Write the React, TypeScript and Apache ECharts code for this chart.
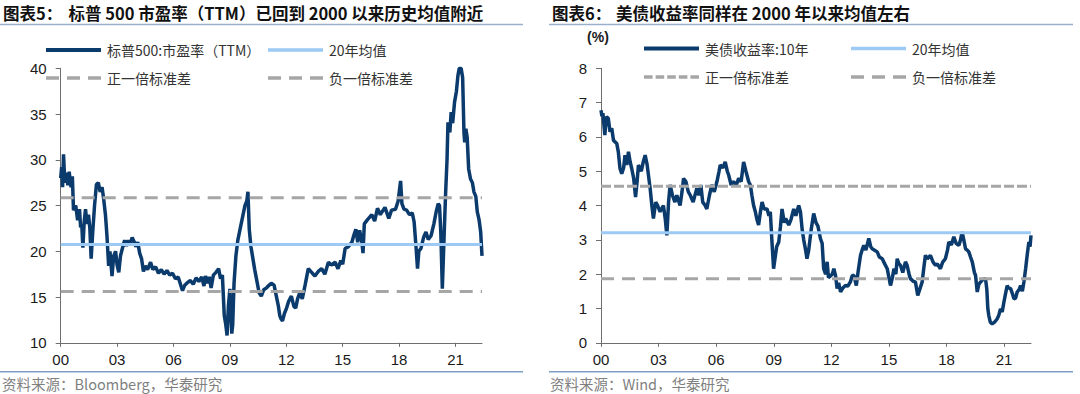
import React, { useEffect, useRef } from "react";
import * as echarts from "echarts";

// ---------- data ----------
const xTickYears = [0, 3, 6, 9, 12, 15, 18, 21];
const xTickLabels = ["00", "03", "06", "09", "12", "15", "18", "21"];

// S&P 500 PE (TTM); x = years since 2000
const peYears = [
  0.0, 0.05, 0.1, 0.15, 0.22, 0.3, 0.38, 0.45, 0.55, 0.62, 0.68, 0.8, 0.9, 1.0, 1.06, 1.12, 1.18, 1.25, 1.32, 1.4,
  1.48, 1.55, 1.62, 1.7, 1.8, 1.9, 2.0, 2.1, 2.2, 2.28, 2.38, 2.46, 2.55, 2.62, 2.73, 2.82, 2.92, 3.0, 3.09, 3.18,
  3.28, 3.4, 3.5, 3.6, 3.7, 3.8, 3.92, 4.0, 4.1, 4.2, 4.3, 4.4, 4.5, 4.62, 4.78, 4.9, 5.05, 5.2, 5.35, 5.5,
  5.65, 5.8, 5.95, 6.1, 6.25, 6.4, 6.48, 6.6, 6.75, 6.9, 7.05, 7.2, 7.35, 7.5, 7.62, 7.7, 7.8, 7.9, 8.0, 8.12,
  8.26, 8.4, 8.5, 8.6, 8.7, 8.78, 8.85, 8.92, 9.0, 9.05, 9.1, 9.15, 9.22, 9.32, 9.42, 9.55, 9.69, 9.8, 9.9, 9.96,
  10.03, 10.12, 10.2, 10.32, 10.45, 10.55, 10.67, 10.8, 10.95, 11.03, 11.2, 11.35, 11.47, 11.58, 11.65, 11.72, 11.8, 11.9, 12.0, 12.12,
  12.27, 12.4, 12.5, 12.6, 12.72, 12.85, 13.0, 13.17, 13.3, 13.52, 13.7, 13.88, 14.05, 14.24, 14.4, 14.6, 14.75, 14.9, 15.0, 15.13,
  15.3, 15.49, 15.6, 15.7, 15.8, 15.9, 16.02, 16.08, 16.15, 16.3, 16.55, 16.7, 16.85, 17.0, 17.09, 17.25, 17.45, 17.6, 17.81, 17.95,
  18.08, 18.15, 18.26, 18.4, 18.55, 18.7, 18.8, 18.9, 18.98, 19.05, 19.16, 19.3, 19.43, 19.55, 19.7, 19.85, 19.97, 20.08, 20.15, 20.22,
  20.3, 20.4, 20.47, 20.55, 20.6, 20.7, 20.77, 20.85, 20.95, 21.05, 21.13, 21.2, 21.3, 21.38, 21.45, 21.49, 21.55, 21.62, 21.7, 21.8,
  21.9, 21.98, 22.08, 22.16, 22.25, 22.34, 22.41,
];
const peValues = [
  28.0, 29.2, 27.0, 30.6, 27.5, 28.6, 27.2, 28.7, 27.0, 28.2, 24.5, 25.0, 23.4, 24.6, 22.6, 23.0, 20.4, 23.2, 24.6, 23.0,
  24.0, 22.5, 19.2, 22.0, 25.0, 27.3, 27.5, 26.5, 27.0, 25.8, 24.0, 21.7, 18.4, 20.0, 17.3, 19.5, 20.0, 18.5, 17.7, 19.5,
  20.3, 21.2, 20.6, 21.2, 20.8, 21.5, 21.0, 20.5, 21.0, 19.8, 19.2, 17.8, 18.4, 18.0, 18.8, 18.0, 18.3, 17.6, 18.0, 17.5,
  17.9, 17.4, 17.6, 17.0, 17.2, 16.2, 15.7, 16.3, 16.6, 16.8, 16.4, 17.1, 16.7, 17.2, 16.2, 17.3, 16.5, 17.2, 16.0, 17.4,
  17.7, 18.1, 17.0, 17.4, 13.0, 12.0, 10.8, 14.0, 15.9, 13.2, 11.0, 12.0, 16.5, 19.5, 21.2, 22.5, 23.9, 25.0, 25.5, 26.5,
  22.4, 20.5, 19.5, 18.0, 16.6, 15.5, 15.1, 15.8, 16.0, 16.2, 16.5, 16.3, 15.1, 14.0, 13.0, 12.6, 12.4, 13.2, 13.7, 14.5,
  15.1, 14.0, 13.8, 14.8, 15.5, 14.8, 16.3, 18.1, 17.8, 17.3, 17.8, 18.1, 17.5, 18.8, 18.5, 18.8, 18.1, 19.0, 18.6, 20.3,
  20.5, 21.0, 21.8, 22.4, 21.0, 22.3, 21.0, 19.8, 23.0, 23.4, 24.0, 23.3, 24.7, 24.0, 24.3, 24.8, 23.6, 24.5, 24.6, 25.5,
  27.7, 25.2, 24.6, 24.5, 24.0, 24.2, 23.2, 20.5, 18.1, 20.0, 20.3, 21.5, 22.1, 21.3, 21.7, 23.0, 24.3, 25.2, 25.0, 22.0,
  15.9, 22.0, 26.1, 30.0, 34.1, 33.0, 35.2, 34.0, 36.3, 37.5, 39.2, 40.0, 40.0, 39.0, 33.0, 31.9, 33.4, 32.5, 29.0, 27.9,
  27.5, 26.5, 26.0, 24.3, 23.5, 22.1, 19.5,
];
const peMean = 20.73;
const pePlusSd = 25.85;
const peMinusSd = 15.62;
const peEnd = 22.41;

// US 10Y Treasury yield (%)
const ustYears = [
  0.0, 0.05, 0.1, 0.2, 0.28, 0.38, 0.47, 0.56, 0.65, 0.82, 0.9, 0.99, 1.08, 1.18, 1.25, 1.34, 1.43, 1.52, 1.6, 1.7,
  1.8, 1.88, 1.95, 2.1, 2.2, 2.3, 2.4, 2.56, 2.65, 2.73, 2.85, 2.95, 3.08, 3.25, 3.35, 3.43, 3.52, 3.6, 3.72, 3.85,
  3.95, 4.12, 4.22, 4.3, 4.42, 4.55, 4.65, 4.8, 4.99, 5.1, 5.2, 5.3, 5.43, 5.51, 5.65, 5.77, 5.9, 6.04, 6.15, 6.21,
  6.35, 6.47, 6.58, 6.65, 6.78, 6.9, 7.05, 7.17, 7.3, 7.43, 7.55, 7.69, 7.78, 7.86, 7.95, 8.04, 8.12, 8.21, 8.3, 8.39,
  8.5, 8.65, 8.75, 8.82, 8.9, 8.99, 9.05, 9.15, 9.26, 9.35, 9.43, 9.55, 9.62, 9.78, 9.9, 10.04, 10.15, 10.3, 10.39, 10.48,
  10.56, 10.66, 10.73, 10.82, 10.95, 11.08, 11.2, 11.3, 11.43, 11.52, 11.6, 11.7, 11.78, 11.85, 11.95, 12.05, 12.13, 12.22, 12.3, 12.38,
  12.48, 12.6, 12.73, 12.85, 12.99, 13.08, 13.17, 13.3, 13.4, 13.52, 13.6, 13.69, 13.8, 13.95, 14.05, 14.13, 14.25, 14.39, 14.5, 14.65,
  14.78, 14.91, 15.0, 15.08, 15.18, 15.26, 15.36, 15.43, 15.52, 15.6, 15.72, 15.86, 15.95, 16.05, 16.12, 16.25, 16.38, 16.5, 16.6, 16.73,
  16.82, 16.9, 17.0, 17.16, 17.3, 17.42, 17.52, 17.68, 17.8, 17.94, 18.05, 18.12, 18.25, 18.38, 18.5, 18.64, 18.73, 18.81, 18.9, 18.99,
  19.08, 19.16, 19.25, 19.34, 19.45, 19.51, 19.6, 19.68, 19.77, 19.9, 20.03, 20.1, 20.15, 20.2, 20.28, 20.38, 20.5, 20.64, 20.72, 20.81,
  20.9, 20.99, 21.08, 21.16, 21.22, 21.34, 21.45, 21.51, 21.6, 21.68, 21.78, 21.86, 21.95, 22.03, 22.12, 22.2, 22.29, 22.35, 22.4,
];
const ustValues = [
  6.78, 6.6, 6.69, 6.05, 6.59, 6.54, 6.15, 6.25, 5.9, 5.81, 5.57, 5.08, 4.93, 5.1, 5.47, 5.18, 5.57, 5.27, 5.08, 4.8,
  4.25, 4.7, 5.18, 5.0, 5.27, 5.47, 5.2, 4.5, 4.0, 3.62, 4.1, 4.0, 3.82, 4.0, 3.6, 3.13, 4.1, 4.6, 4.3, 4.1,
  4.3, 4.0, 4.4, 4.79, 4.7, 4.4, 4.3, 4.1, 4.5, 4.3, 4.6, 4.1, 4.0, 3.9, 4.3, 4.6, 4.4, 4.7, 5.0, 5.18,
  5.1, 5.27, 5.0, 4.89, 4.6, 4.7, 4.6, 4.79, 4.7, 5.27, 5.0, 4.7, 4.6, 4.3, 4.0, 3.82, 3.6, 3.43, 3.8, 4.1,
  3.9, 3.9, 3.7, 3.82, 3.0, 2.16, 2.4, 2.8, 2.94, 3.4, 3.9, 3.5, 3.62, 3.43, 3.6, 3.9, 3.7, 4.0, 3.82, 3.3,
  3.0, 2.7, 2.45, 2.7, 3.3, 3.77, 3.5, 3.4, 3.04, 2.9, 2.16, 2.0, 2.36, 1.9, 1.95, 2.0, 2.16, 1.95, 1.58, 1.75,
  1.48, 1.6, 1.67, 1.65, 1.77, 1.95, 1.97, 1.67, 2.1, 2.55, 2.7, 2.84, 2.7, 3.04, 2.8, 2.74, 2.7, 2.65, 2.5, 2.45,
  2.3, 2.16, 1.9, 1.67, 1.9, 2.16, 2.0, 2.45, 2.3, 2.26, 2.05, 2.36, 2.25, 2.0, 1.87, 1.8, 1.77, 1.38, 1.55, 1.77,
  2.2, 2.55, 2.45, 2.55, 2.35, 2.26, 2.3, 2.16, 2.35, 2.45, 2.7, 2.94, 2.85, 3.09, 2.9, 2.84, 3.0, 3.23, 3.0, 2.74,
  2.7, 2.65, 2.5, 2.36, 2.05, 1.97, 1.48, 1.7, 1.77, 1.85, 1.87, 1.55, 1.0, 0.8, 0.6, 0.55, 0.6, 0.7, 0.8, 0.99,
  0.9, 1.19, 1.45, 1.67, 1.6, 1.58, 1.4, 1.28, 1.3, 1.48, 1.55, 1.67, 1.5, 1.77, 2.16, 2.55, 2.94, 2.8, 3.13,
];
const ustMean = 3.21;
const ustPlusSd = 4.56;
const ustMinusSd = 1.87;
const ustEnd = 22.4;

// ---------- styles ----------
const NAVY = "#0b3a6c";
const LIGHT = "#9ccaf4";
const GREY = "#a6a6a6";
const AXIS = "#6e6e6e";
const SANS = "'Liberation Sans', Arial, 'Noto Sans CJK SC', sans-serif";
const CJK = "'Noto Sans CJK SC', 'Liberation Sans', sans-serif";

// legend icons (55 x 3 boxes)
const ICON_SOLID = "path://M0,0h55v3h-55z";
const ICON_LONG_DASH = "path://M0,0h13v3h-13zM21,0h13v3h-13zM42,0h13v3h-13z";
const ICON_SHORT_DASH =
  "path://M0,0h8.6v3h-8.6zM11.6,0h8.6v3h-8.6zM23.2,0h8.6v3h-8.6zM34.8,0h8.6v3h-8.6zM46.4,0h8.6v3h-8.6z";

const pairs = (xs: number[], ys: number[]) => xs.map((x, i) => [x, ys[i]]);
const flat = (v: number, end: number) => [[0, v], [end, v]];

function xAxisFor(gridIndex: number, end: number) {
  return {
    type: "value",
    gridIndex,
    min: 0,
    max: end,
    axisLine: { show: true, lineStyle: { color: AXIS, width: 1 } },
    axisTick: { show: true, length: 4, lineStyle: { color: AXIS }, customValues: xTickYears },
    axisLabel: {
      customValues: xTickYears,
      formatter: (v: number) => xTickLabels[xTickYears.indexOf(Math.round(v))] ?? "",
      color: "#1a1a1a",
      fontSize: 15,
      fontFamily: SANS,
      margin: 9,
    },
    splitLine: { show: false },
  };
}

function yAxisFor(gridIndex: number, min: number, max: number, interval: number) {
  return {
    type: "value",
    gridIndex,
    min,
    max,
    interval,
    axisLine: { show: true, lineStyle: { color: AXIS, width: 1 } },
    axisTick: { show: true, length: 5, lineStyle: { color: AXIS } },
    axisLabel: { color: "#1a1a1a", fontSize: 15, fontFamily: SANS, margin: 14 },
    splitLine: { show: false },
  };
}

function lineSeries(name: string, idx: number, data: any[], color: string, width: number, type: any, z: number) {
  return {
    name,
    type: "line",
    xAxisIndex: idx,
    yAxisIndex: idx,
    data,
    showSymbol: false,
    symbol: "none",
    lineStyle: { color, width, type },
    itemStyle: { color },
    z,
    silent: true,
  };
}

function legendAt(name: string, left: number, top: number, icon: string, h: number) {
  return {
    data: [{ name, icon }],
    left,
    top,
    itemWidth: 55,
    itemHeight: h,
    itemGap: 0,
    padding: 0,
    symbolKeepAspect: false,
    formatter: (n: string) => n.split("|")[1],
    textStyle: { color: "#333", fontSize: 14, fontFamily: CJK, padding: [0, 0, 0, 1] },
    selectedMode: false,
  };
}

function text(str: string, x: number, y: number, font: any, fill: string, align = "left") {
  return {
    type: "text",
    x,
    y,
    silent: true,
    style: { text: str, fill, align, verticalAlign: "middle", ...font },
  };
}

function hline(x1: number, x2: number, y: number, color: string, w: number) {
  return { type: "line", silent: true, shape: { x1, y1: y, x2, y2: y }, style: { stroke: color, lineWidth: w } };
}

export default function App() {
  const ref = useRef<HTMLDivElement>(null);
  useEffect(() => {
    if (!ref.current) return;
    const chart = echarts.init(ref.current, undefined, { renderer: "svg" });
    const titleFont = { fontSize: 16.5, fontWeight: "bold", fontFamily: CJK };
    const srcFont = { fontSize: 14.5, fontFamily: CJK };
    chart.setOption({
      animation: false,
      backgroundColor: "#ffffff",
      grid: [
        { left: 60.7, top: 68.3, width: 421.3, height: 274.5 },
        { left: 601, top: 68.3, width: 430, height: 274.5 },
      ],
      xAxis: [xAxisFor(0, peEnd), xAxisFor(1, ustEnd)],
      yAxis: [yAxisFor(0, 10, 40, 5), yAxisFor(1, 0, 8, 1)],
      legend: [
        legendAt("L|标普500:市盈率（TTM）", 46, 43, ICON_SOLID, 4),
        legendAt("L|20年均值", 268, 43, ICON_SOLID, 3.5),
        legendAt("L|正一倍标准差", 46, 71, ICON_LONG_DASH, 3.5),
        legendAt("L|负一倍标准差", 268, 71, ICON_LONG_DASH, 3.5),
        legendAt("R|美债收益率:10年", 644, 41.5, ICON_SOLID, 4),
        legendAt("R|20年均值", 851, 41.5, ICON_SOLID, 3.5),
        legendAt("R|正一倍标准差", 644, 70, ICON_SHORT_DASH, 3.5),
        legendAt("R|负一倍标准差", 851, 70, ICON_LONG_DASH, 3.5),
      ],
      series: [
        lineSeries("L|标普500:市盈率（TTM）", 0, pairs(peYears, peValues), NAVY, 3.5, "solid", 2),
        lineSeries("L|20年均值", 0, flat(peMean, peEnd), LIGHT, 3, "solid", 3),
        lineSeries("L|正一倍标准差", 0, flat(pePlusSd, peEnd), GREY, 3, [13, 8], 3),
        lineSeries("L|负一倍标准差", 0, flat(peMinusSd, peEnd), GREY, 3, [13, 8], 3),
        lineSeries("R|美债收益率:10年", 1, pairs(ustYears, ustValues), NAVY, 3.5, "solid", 2),
        lineSeries("R|20年均值", 1, flat(ustMean, ustEnd), LIGHT, 3, "solid", 3),
        lineSeries("R|正一倍标准差", 1, flat(ustPlusSd, ustEnd), GREY, 3, [10, 3], 3),
        lineSeries("R|负一倍标准差", 1, flat(ustMinusSd, ustEnd), GREY, 3, [13, 8], 3),
      ],
      graphic: [
        text("图表5：", 3, 13, titleFont, "#111"),
        text("标普 500 市盈率（TTM）已回到 2000 以来历史均值附近", 68.5, 13, titleFont, "#111"),
        text("图表6：", 552, 13, titleFont, "#111"),
        text("美债收益率同样在 2000 年以来均值左右", 616, 13, titleFont, "#111"),
        hline(0, 523, 24.5, "#98b0cc", 1.5),
        hline(549, 1073, 24.5, "#98b0cc", 1.5),
        hline(0, 523, 371.7, "#7e9ec6", 1.5),
        hline(549, 1073, 371.7, "#7e9ec6", 1.5),
        text("资料来源：Bloomberg，华泰研究", 2, 383.5, srcFont, "#7f7f7f"),
        text("资料来源：Wind，华泰研究", 550, 383.5, srcFont, "#7f7f7f"),
        text("(%)", 598, 37, { fontSize: 14, fontWeight: "bold", fontFamily: SANS }, "#1a1a1a", "center"),
      ],
    });
    return () => chart.dispose();
  }, []);
  return (
    <div
      ref={ref}
      style={{ position: "fixed", left: 0, top: 0, width: 1080, height: 394, background: "#fff" }}
    />
  );
}
